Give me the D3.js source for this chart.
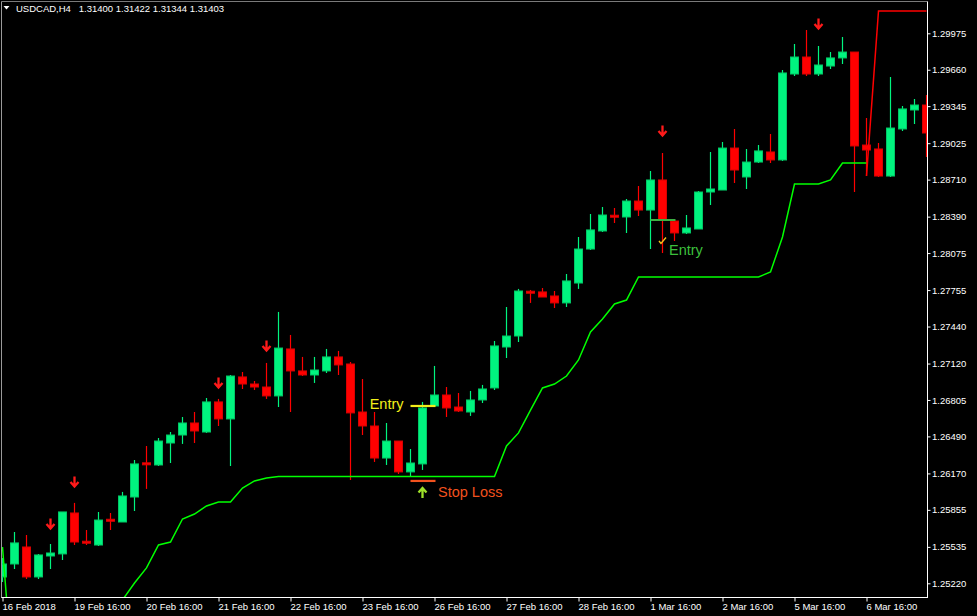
<!DOCTYPE html>
<html><head><meta charset="utf-8">
<script src="https://cdn.jsdelivr.net/npm/d3@7"></script>
<style>html,body{margin:0;padding:0;background:#000;overflow:hidden}</style>
</head><body>
<script>
// ---- data (USDCAD, H4) ----
const openP = [1.25275,1.25387,1.25534,1.25275,1.25456,1.25474,1.25828,1.25577,1.25551,1.25767,
1.25750,1.25966,1.26256,1.26243,1.26433,1.26502,1.26606,1.26528,1.26788,1.26641,
1.27004,1.26943,1.26917,1.26840,1.27246,1.27056,1.27021,1.27056,1.27177,1.27116,
1.26701,1.26580,1.26303,1.26450,1.26183,1.26252,1.26753,1.26848,1.26744,1.26701,
1.26805,1.26909,1.27263,1.27358,1.27739,1.27739,1.27704,1.27644,1.27816,1.28110,
1.28266,1.28396,1.28387,1.28525,1.28447,1.28707,1.28352,1.28249,1.28283,1.28603,
1.28620,1.28983,1.28733,1.28862,1.28949,1.28880,1.29623,1.29770,1.29623,1.29692,
1.29762,1.29813,1.29009,1.28975,1.28741,1.29148,1.29312,1.29355];
const highP = [1.25439,1.25664,1.25638,1.25474,1.25560,1.25837,1.25915,1.25681,1.25837,1.25828,
1.26010,1.26286,1.26407,1.26476,1.26528,1.26658,1.26701,1.26822,1.26814,1.27021,
1.27047,1.26969,1.27125,1.27566,1.27367,1.27177,1.27177,1.27246,1.27229,1.27133,
1.26986,1.26701,1.26606,1.26450,1.26381,1.26788,1.27099,1.26917,1.26865,1.26883,
1.26935,1.27315,1.27609,1.27765,1.27756,1.27773,1.27747,1.27894,1.28214,1.28413,
1.28473,1.28465,1.28543,1.28655,1.28785,1.28940,1.28352,1.28404,1.28612,1.28949,
1.29035,1.29148,1.28975,1.29009,1.29104,1.29658,1.29883,1.30004,1.29865,1.29813,
1.29943,1.29813,1.29243,1.29027,1.29597,1.29347,1.29407,1.29442];
const lowP = [1.25232,1.25344,1.25257,1.25257,1.25344,1.25422,1.25551,1.25551,1.25543,1.25681,
1.25750,1.25845,1.26036,1.26234,1.26260,1.26425,1.26433,1.26520,1.26580,1.26234,
1.26900,1.26891,1.26814,1.26744,1.26701,1.27012,1.26952,1.27038,1.27021,1.26113,
1.26502,1.26269,1.26243,1.26165,1.26139,1.26200,1.26744,1.26658,1.26701,1.26667,
1.26779,1.26891,1.27168,1.27306,1.27644,1.27695,1.27600,1.27609,1.27765,1.28102,
1.28257,1.28335,1.28249,1.28396,1.28110,1.28076,1.28179,1.28240,1.28283,1.28491,
1.28620,1.28681,1.28629,1.28854,1.28854,1.28871,1.29606,1.29606,1.29606,1.29666,
1.29710,1.28603,1.28741,1.28733,1.28733,1.29130,1.29191,1.28906];
const closeP = [1.25387,1.25569,1.25275,1.25465,1.25482,1.25837,1.25577,1.25573,1.25767,1.25763,
1.25975,1.26252,1.26250,1.26450,1.26502,1.26606,1.26537,1.26788,1.26641,1.27012,
1.26943,1.26917,1.26840,1.27254,1.27056,1.27021,1.27064,1.27177,1.27108,1.26693,
1.26580,1.26303,1.26450,1.26183,1.26260,1.26736,1.26848,1.26736,1.26710,1.26805,
1.26900,1.27272,1.27358,1.27747,1.27734,1.27695,1.27644,1.27834,1.28110,1.28275,
1.28404,1.28391,1.28525,1.28447,1.28707,1.28361,1.28249,1.28292,1.28603,1.28629,
1.28983,1.28793,1.28862,1.28958,1.28880,1.29632,1.29770,1.29623,1.29701,1.29762,
1.29813,1.29001,1.28966,1.28741,1.29156,1.29321,1.29355,1.29113];

// trailing stop (long side) from bar 0, (short side) from bar 72
const stopUp = [1.25534,1.24211,1.24230,1.24260,1.24300,1.24400,1.24500,1.24600,1.24700,1.24850,
1.25076,1.25223,1.25353,1.25551,1.25577,1.25776,1.25819,1.25889,1.25923,1.25923,
1.26044,1.26105,1.26131,1.26144,1.26144,1.26144,1.26144,1.26144,1.26144,1.26144,
1.26144,1.26144,1.26144,1.26144,1.26144,1.26144,1.26144,1.26144,1.26144,1.26144,
1.26144,1.26144,1.26407,1.26520,1.26718,1.26909,1.26943,1.27012,1.27151,1.27393,
1.27505,1.27635,1.27669,1.27868,1.27868,1.27868,1.27868,1.27868,1.27868,1.27868,
1.27868,1.27868,1.27868,1.27868,1.27911,1.28214,1.28672,1.28672,1.28672,1.28707,
1.28854,1.28854,1.28854];
const stopDownStart = 72;
const stopDown = [1.28741,1.30168,1.30168,1.30168,1.30168,1.30168];

// sell arrows
const arrowIdx = [4,6,18,22,55,68];
const arrowPrice = [1.25733,1.26096,1.26952,1.27272,1.29130,1.30055];

// axis ticks
const priceTicks = [1.29975,1.29660,1.29345,1.29025,1.28710,1.28390,1.28075,1.27755,
1.27440,1.27120,1.26805,1.26490,1.26170,1.25855,1.25535,1.25220];
const timeIdx = [0,6,12,18,24,30,36,42,48,54,60,66,72];
const timeLabels = ["16 Feb 2018","19 Feb 16:00","20 Feb 16:00","21 Feb 16:00","22 Feb 16:00",
"23 Feb 16:00","26 Feb 16:00","27 Feb 16:00","28 Feb 16:00","1 Mar 16:00","2 Mar 16:00",
"5 Mar 16:00","6 Mar 16:00"];

// trade annotations
const entry1 = {from:34, to:36, price:1.26753};
const stop1 = {from:34, to:36, price:1.26105};
const entry2 = {from:54, to:56, price:1.28361};

// ---- drawing ----
const W = 977, H = 616;
const FONT = '"Liberation Sans", Arial, sans-serif';
const bull = '#00f47f', bear = '#ff0000';
const svg = d3.select('body').append('svg').attr('width', W).attr('height', H).style('display','block');
svg.append('rect').attr('width', W).attr('height', H).attr('fill', '#000');

const N = openP.length;
const x = d3.scaleLinear().domain([0, N - 1]).range([2.5, 2.5 + 12 * (N - 1)]);
const y = d3.scaleLinear().domain([1.25220, 1.29975]).range([583.3, 33.3]);

svg.append('defs').append('clipPath').attr('id', 'plot')
  .append('rect').attr('x', 2).attr('y', 2).attr('width', 925.5).attr('height', 595.5);
const g = svg.append('g').attr('clip-path', 'url(#plot)');

const idx = d3.range(N);
const isUp = i => closeP[i] >= openP[i];
g.selectAll('line.wick').data(idx).join('line').attr('class', 'wick')
  .attr('x1', i => x(i)).attr('x2', i => x(i))
  .attr('y1', i => y(highP[i])).attr('y2', i => y(lowP[i]))
  .attr('stroke', i => isUp(i) ? bull : bear).attr('stroke-width', 1.2);
g.selectAll('rect.body').data(idx).join('rect').attr('class', 'body')
  .attr('x', i => x(i) - 4).attr('width', 8)
  .attr('y', i => { const a = y(openP[i]), b = y(closeP[i]); const h = Math.abs(a - b); return h < 2 ? (a + b) / 2 - 1 : Math.min(a, b); })
  .attr('height', i => Math.max(2, Math.abs(y(openP[i]) - y(closeP[i]))))
  .attr('fill', i => isUp(i) ? bull : bear)
  .attr('stroke', i => isUp(i) ? '#00c866' : '#d80000').attr('stroke-width', 1);

// trailing stop lines
g.append('path').datum(stopUp)
  .attr('d', d3.line().x((d, i) => x(i)).y(d => y(d)))
  .attr('fill', 'none').attr('stroke', '#00ff00').attr('stroke-width', 1.5);
g.append('path').datum(stopDown)
  .attr('d', d3.line().x((d, i) => x(i + stopDownStart)).y(d => y(d)))
  .attr('fill', 'none').attr('stroke', '#ff0000').attr('stroke-width', 1.5);

// sell arrows
g.selectAll('path.arr').data(arrowIdx).join('path').attr('class', 'arr')
  .attr('transform', (d, k) => `translate(${x(d)},${y(arrowPrice[k])})`)
  .attr('d', 'M0,-5.5 L0,4 M-4,0 L0,4.5 L4,0')
  .attr('fill', 'none').attr('stroke', '#ff1a1a').attr('stroke-width', 2.3);

// trade annotations
function seg(s, color) {
  g.append('line').attr('x1', x(s.from)).attr('x2', x(s.to) + 1)
    .attr('y1', y(s.price)).attr('y2', y(s.price))
    .attr('stroke', color).attr('stroke-width', 2.2);
}
seg(entry1, '#f2ee1a');
seg(stop1, '#f2521e');
seg(entry2, '#3cb043');

g.append('text').attr('x', x(entry1.from) - 7).attr('y', y(entry1.price) + 3.5)
  .attr('text-anchor', 'end').attr('fill', '#f2f01a')
  .style('font', `14.5px ${FONT}`).text('Entry');
g.append('text').attr('x', x(stop1.to) + 3.5).attr('y', y(stop1.price) + 16)
  .attr('fill', '#f2521e').style('font', `14.5px ${FONT}`).text('Stop Loss');
g.append('path')
  .attr('transform', `translate(${x(stop1.from + 1)},${y(stop1.price) + 11.5})`)
  .attr('d', 'M0,5.5 L0,-4 M-4,0 L0,-4.5 L4,0')
  .attr('fill', 'none').attr('stroke', '#9ee02a').attr('stroke-width', 2.3);

g.append('text').attr('x', x(entry2.from + 1) + 6.5).attr('y', y(entry2.price) + 35.5)
  .attr('fill', '#3cbf3c').style('font', `14.5px ${FONT}`).text('Entry');
g.append('path')
  .attr('transform', `translate(${x(entry2.from + 1)},${y(entry2.price) + 20.5})`)
  .attr('d', 'M-3.5,0.5 L-1.5,3 L3.5,-3')
  .attr('fill', 'none').attr('stroke', '#f5c21a').attr('stroke-width', 1.4);

// frame
svg.append('line').attr('x1', 1.5).attr('x2', 927.5).attr('y1', 1.5).attr('y2', 1.5).attr('stroke', '#7a7a7a');
svg.append('line').attr('x1', 1.5).attr('x2', 1.5).attr('y1', 1.5).attr('y2', 598).attr('stroke', '#9a9a9a');
svg.append('line').attr('x1', 927.5).attr('x2', 927.5).attr('y1', 1.5).attr('y2', 598).attr('stroke', '#ffffff');
svg.append('line').attr('x1', 1.5).attr('x2', 928).attr('y1', 597.5).attr('y2', 597.5).attr('stroke', '#ffffff');

// price axis
const gy = svg.append('g').attr('transform', 'translate(927.5,0)')
  .call(d3.axisRight(y).tickValues(priceTicks).tickFormat(d3.format('.5f')).tickSize(3).tickPadding(1.5));
gy.select('.domain').remove();
gy.attr('font-family', null).attr('font-size', null);
gy.selectAll('line').attr('stroke', '#ffffff');
gy.selectAll('text').attr('fill', '#ffffff').style('font', `9.5px ${FONT}`);

// time axis
const gx = svg.append('g').attr('transform', 'translate(0,597.5)')
  .call(d3.axisBottom(x).tickValues(timeIdx).tickFormat((d, k) => timeLabels[k]).tickSize(4).tickPadding(1.5));
gx.select('.domain').remove();
gx.attr('font-family', null).attr('font-size', null);
gx.selectAll('line').attr('stroke', '#ffffff');
gx.selectAll('text').attr('fill', '#ffffff').attr('text-anchor', 'start').attr('x', -0.5)
  .style('font', `9.5px ${FONT}`);

// header
svg.append('path').attr('d', 'M3.5,6 L9.5,6 L6.5,9.5 Z').attr('fill', '#ffffff');
svg.append('text').attr('x', 16).attr('y', 12).attr('fill', '#ffffff')
  .style('font', `9.5px ${FONT}`).style('white-space', 'pre')
  .text('USDCAD,H4\u00a0\u00a0 1.31400 1.31422 1.31344 1.31403');
</script>
</body></html>
